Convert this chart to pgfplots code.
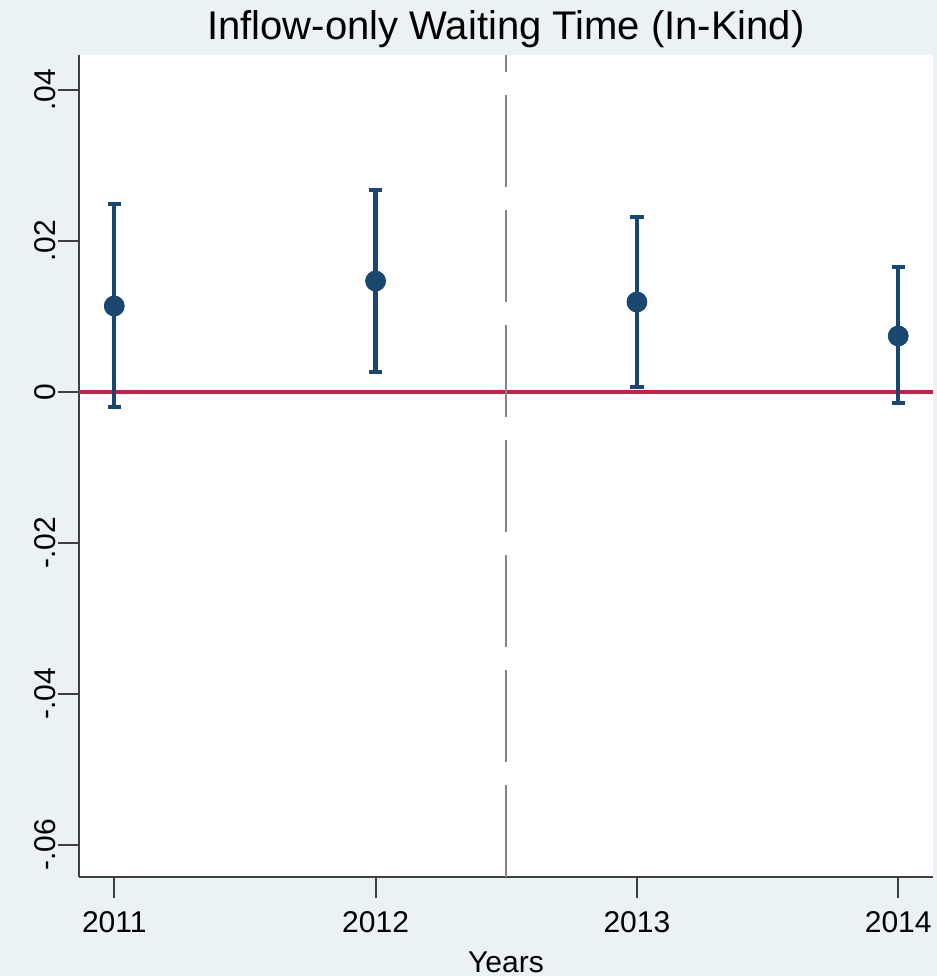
\documentclass[border=0pt]{standalone}
\usepackage{fontspec}
\setmainfont{Liberation Sans}
\usepackage{pgfplots}
\pgfplotsset{compat=1.18}
\usetikzlibrary{backgrounds,calc}
\definecolor{bg}{HTML}{EAF2F3}
\definecolor{navy}{HTML}{1A476F}
\definecolor{redl}{HTML}{CC1C4A}
\definecolor{axgray}{HTML}{404040}
\definecolor{dashgray}{HTML}{858585}

\pgfplotstableread{
x y yp ym
2011 0.01139 0.01351 0.01338
2012 0.01470 0.01205 0.01205
2013 0.01192 0.01126 0.01126
2014 0.00742 0.00914 0.00888
}\ests

\begin{document}
\begin{tikzpicture}
\begin{axis}[
  scale only axis, width=427pt, height=411pt,
  xmin=2010.865, xmax=2014.133, ymin=-0.06424, ymax=0.04464,
  axis x line*=bottom, axis y line*=left,
  axis line style={axgray, line width=1pt},
  tick align=outside, major tick length=10.5pt,
  tick style={axgray, line width=1pt},
  scaled y ticks=false,
  xtick={2011,2012,2013,2014}, xticklabels={2011,2012,2013,2014},
  ytick={0.04,0.02,0,-0.02,-0.04,-0.06}, yticklabels={.04,.02,0,-.02,-.04,-.06},
  xticklabel style={font=\fontsize{15}{16}\selectfont, yshift=-3pt},
  yticklabel style={font=\fontsize{15}{16}\selectfont, rotate=90, anchor=south, inner sep=1pt},
  xlabel={Years},
  xlabel style={font=\fontsize{15}{16}\selectfont, at={(0.5,0)}, anchor=base, yshift=-47.5pt},
  title={Inflow-only Waiting Time (In-Kind)},
  title style={font=\fontsize{20}{22}\selectfont, at={(0.5,1)}, anchor=base, yshift=1.5pt},
  axis background/.style={fill=white},
  clip=false,
]
\addplot[redl, line width=2pt] coordinates {(2010.865,0) (2014.133,0)};
\addplot[dashgray, line width=1pt, dash pattern=on 46pt off 11.5pt] coordinates {(2012.5,-0.06424) (2012.5,0.04464)};
\addplot[navy, mark=*, only marks, mark size=5pt, mark options={fill=navy, draw=navy},
  error bars/.cd, y dir=both, y explicit,
  error bar style={line width=2.2pt, navy},
  error mark options={rotate=90, mark size=3.3pt, line width=2.2pt, navy}]
  table[x=x, y=y, y error plus=yp, y error minus=ym] {\ests};
\end{axis}
\begin{scope}[on background layer]
\fill[bg] ($(current axis.south west)+(-39.5pt,-49.5pt)$) rectangle ($(current axis.north east)+(2pt,27.5pt)$);
\end{scope}
\pgfresetboundingbox
\path[use as bounding box] ($(current axis.south west)+(-39.5pt,-49.5pt)$) rectangle ($(current axis.north east)+(2pt,27.5pt)$);
\end{tikzpicture}
\end{document}
